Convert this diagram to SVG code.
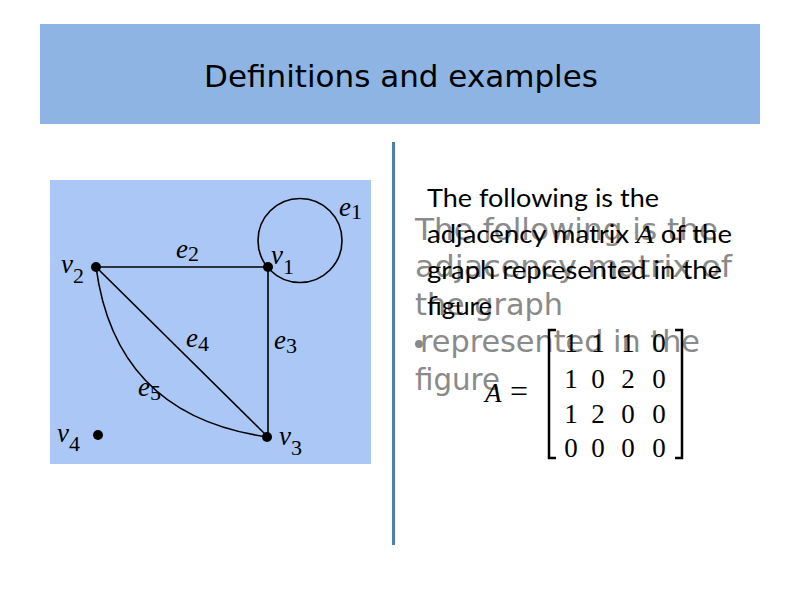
<svg xmlns="http://www.w3.org/2000/svg" width="800" height="600" viewBox="0 0 800 600">
<style>
.edge{fill:none;stroke:#000;stroke-width:1.6}
.dot{fill:#000}
.lbl{font-family:"Liberation Serif",serif;font-style:italic;font-size:27px;fill:#000}
.sub{font-style:normal;font-size:22px}
.gray{font-family:"DejaVu Sans",sans-serif;font-size:30px;fill:#8a8a8a}
.blk{font-family:Lato,"Liberation Sans",sans-serif;font-size:25px;fill:#000}
.mat{font-family:"Liberation Serif",serif;font-size:27px;fill:#000;text-anchor:middle}
</style>
<rect x="0" y="0" width="800" height="600" fill="#fff"/>
<g id="header">
<rect x="40" y="24" width="720" height="100" fill="#8eb4e3"/>
<text x="401" y="87" font-family="DejaVu Sans, sans-serif" font-size="31" text-anchor="middle" fill="#000">Definitions and examples</text>
</g>
<line id="divider" x1="393.5" y1="142" x2="393.5" y2="545" stroke="#4a7ebb" stroke-width="3"/>
<rect id="graph-bg" x="50" y="180" width="321" height="284" fill="#aac7f6"/>
<g id="connectors">
<circle class="edge" cx="300" cy="240.5" r="42"/>
<line class="edge" x1="96" y1="267" x2="268" y2="267"/>
<line class="edge" x1="268" y1="267" x2="268" y2="437"/>
<line class="edge" x1="96" y1="267" x2="268" y2="437"/>
<path class="edge" d="M96,267 Q116,416 268,437"/>
</g>
<g id="v1"><circle class="dot" cx="268" cy="267" r="5"/><text class="lbl" x="271" y="264">v<tspan class="sub" dy="10">1</tspan></text></g>
<g id="v2"><circle class="dot" cx="96" cy="267" r="5"/><text class="lbl" x="61" y="273">v<tspan class="sub" dy="10">2</tspan></text></g>
<g id="v3"><circle class="dot" cx="267" cy="437" r="5"/><text class="lbl" x="279" y="445">v<tspan class="sub" dy="10">3</tspan></text></g>
<g id="v4"><circle class="dot" cx="98" cy="435" r="5"/><text class="lbl" x="57" y="442">v<tspan class="sub" dy="9">4</tspan></text></g>
<g id="edge-labels">
<text class="lbl" x="339" y="216">e<tspan class="sub" dy="3">1</tspan></text>
<text class="lbl" x="176" y="258">e<tspan class="sub" dy="3">2</tspan></text>
<text class="lbl" x="274" y="349">e<tspan class="sub" dy="4">3</tspan></text>
<text class="lbl" x="186" y="347">e<tspan class="sub" dy="4">4</tspan></text>
<text class="lbl" x="138" y="396">e<tspan class="sub" dy="4">5</tspan></text>
</g>
<g id="gray-text">
<text class="gray" x="415" y="240" textLength="303" lengthAdjust="spacingAndGlyphs">The following is the</text>
<text class="gray" x="415" y="277" textLength="317" lengthAdjust="spacingAndGlyphs">adjacency matrix of</text>
<text class="gray" x="415" y="315" textLength="148" lengthAdjust="spacingAndGlyphs">the graph</text>
<circle cx="419" cy="344" r="4" fill="#8a8a8a"/>
<text class="gray" x="420" y="352" textLength="280" lengthAdjust="spacingAndGlyphs">represented in the</text>
<text class="gray" x="415" y="390" textLength="85" lengthAdjust="spacingAndGlyphs">figure</text>
</g>
<g id="black-text">
<text class="blk" x="427" y="207" textLength="232" lengthAdjust="spacingAndGlyphs">The following is the</text>
<text class="blk" x="427" y="243" textLength="305" lengthAdjust="spacingAndGlyphs">adjacency matrix <tspan font-family="Liberation Serif, serif" font-style="italic" font-size="26">A</tspan> of the</text>
<text class="blk" x="427" y="279" textLength="295" lengthAdjust="spacingAndGlyphs">graph represented in the</text>
<text class="blk" x="427" y="315" textLength="65" lengthAdjust="spacingAndGlyphs">figure</text>
</g>
<g id="matrix">
<text x="485" y="402" font-family="Liberation Serif, serif" font-size="27"><tspan font-style="italic">A</tspan><tspan x="510" font-size="32">=</tspan></text>
<path d="M556,330 H549 V458 H556" fill="none" stroke="#000" stroke-width="2.5"/>
<path d="M675,330 H682 V458 H675" fill="none" stroke="#000" stroke-width="2.5"/>
<text class="mat" y="352"><tspan x="571">1</tspan><tspan x="598">1</tspan><tspan x="628">1</tspan><tspan x="659">0</tspan></text>
<text class="mat" y="388"><tspan x="571">1</tspan><tspan x="598">0</tspan><tspan x="628">2</tspan><tspan x="659">0</tspan></text>
<text class="mat" y="423"><tspan x="571">1</tspan><tspan x="598">2</tspan><tspan x="628">0</tspan><tspan x="659">0</tspan></text>
<text class="mat" y="457"><tspan x="571">0</tspan><tspan x="598">0</tspan><tspan x="628">0</tspan><tspan x="659">0</tspan></text>
</g>
</svg>
